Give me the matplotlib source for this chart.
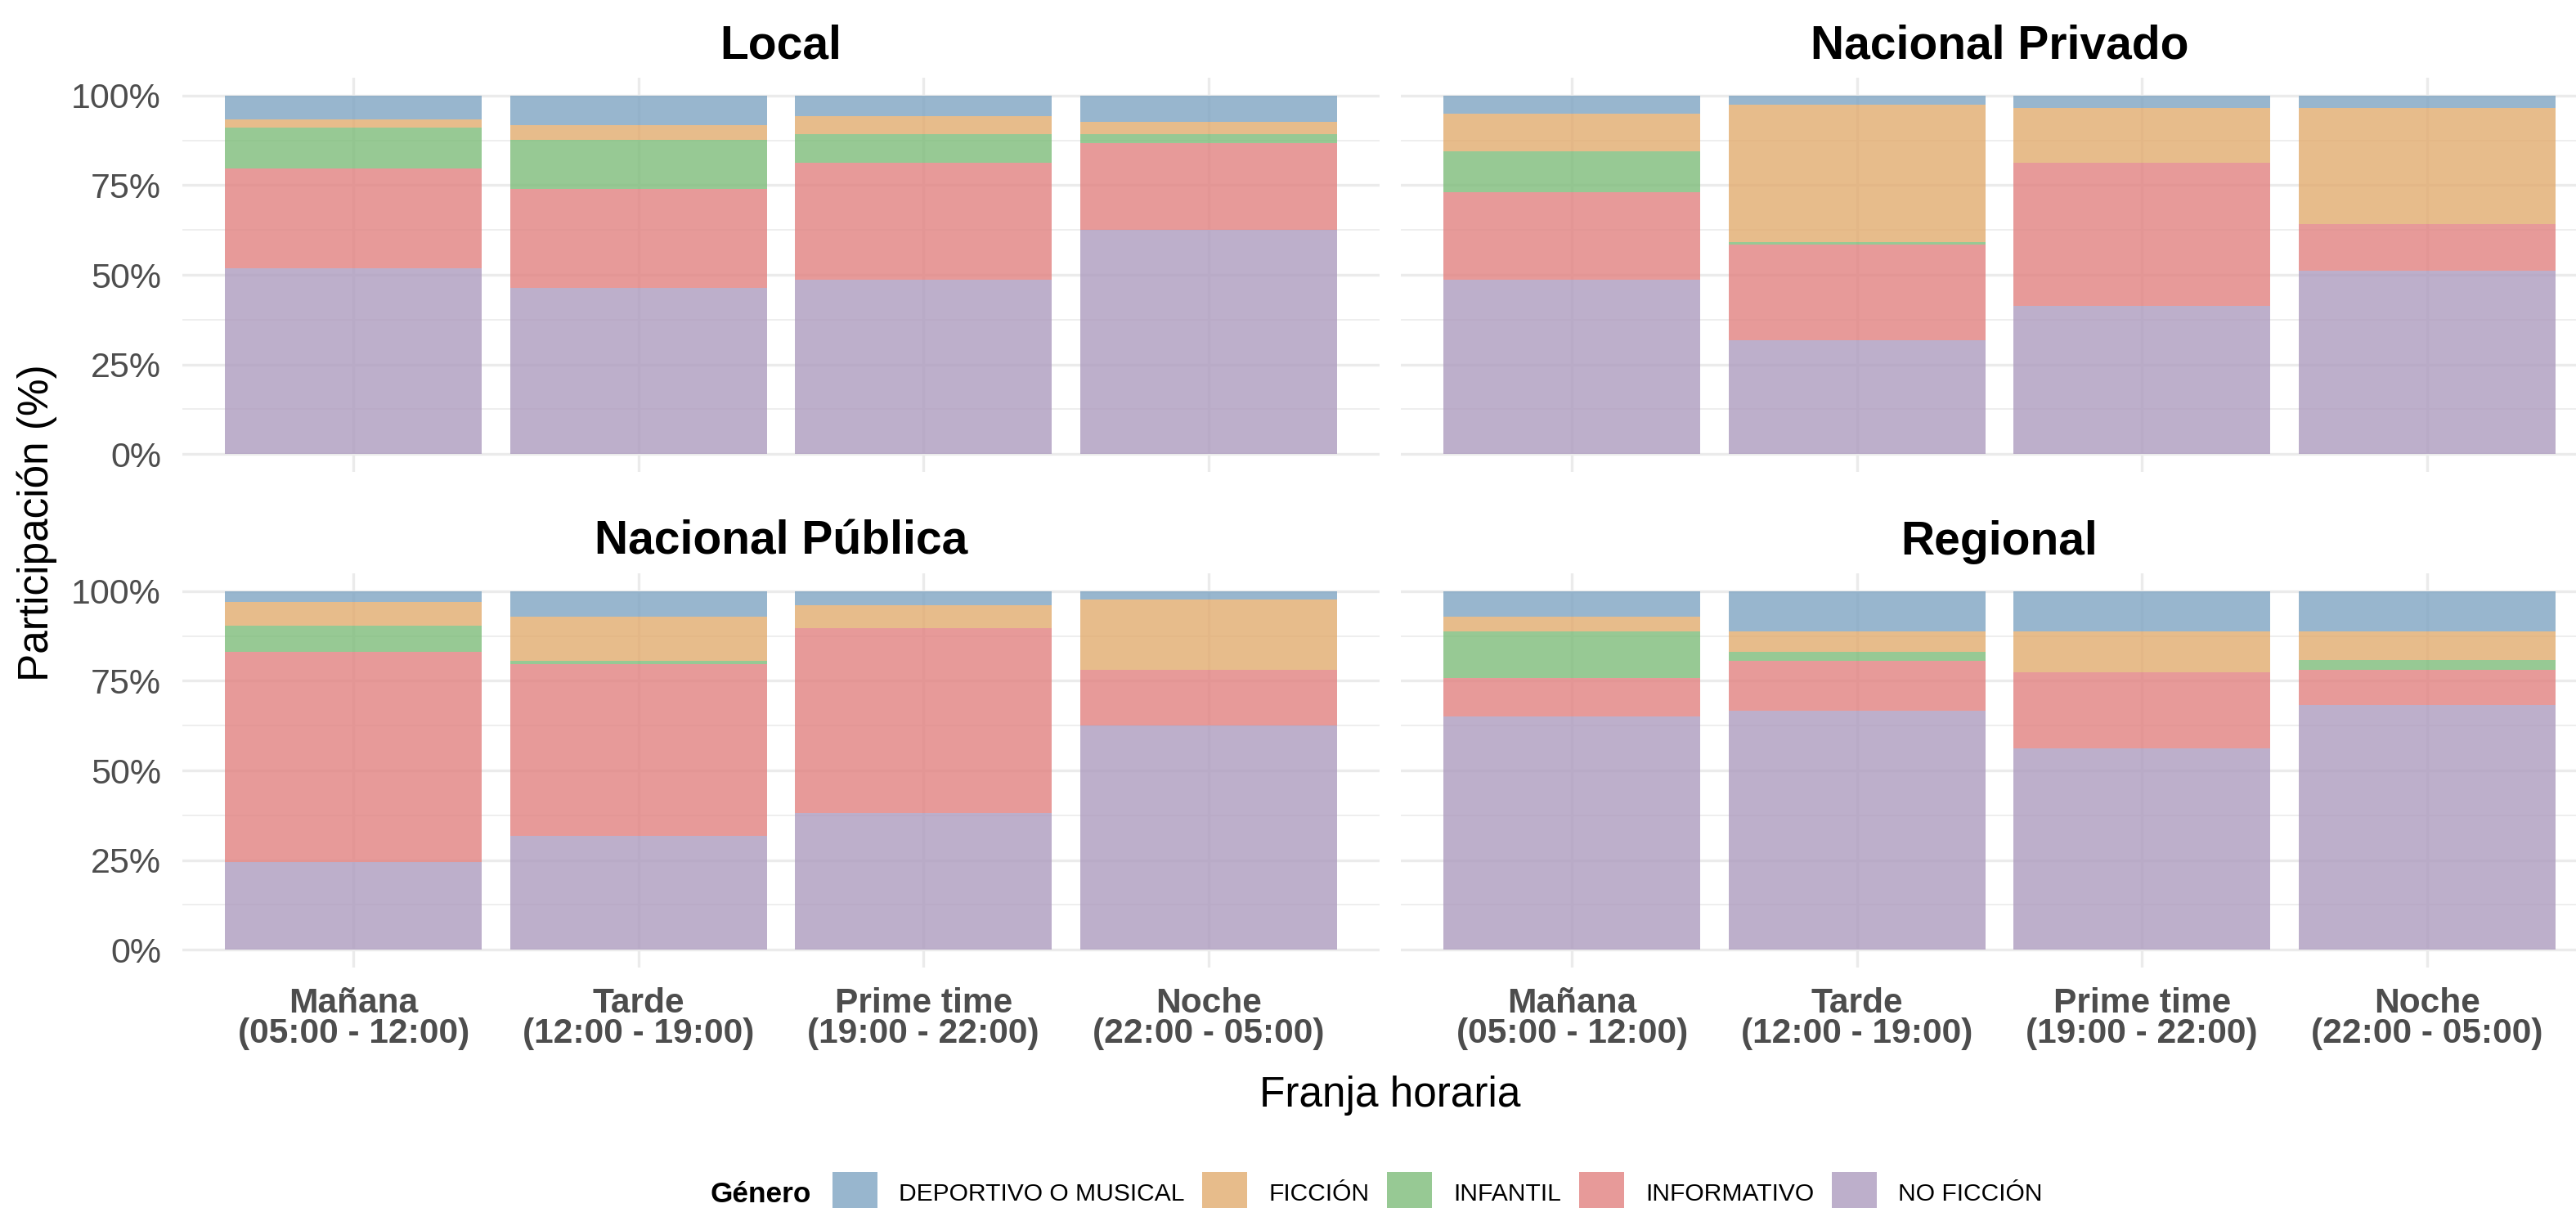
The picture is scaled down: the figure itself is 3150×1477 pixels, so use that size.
import matplotlib
matplotlib.use("Agg")
import matplotlib.pyplot as plt
import numpy as np
from matplotlib.patches import Patch

plt.rcParams['font.family'] = ['Liberation Sans', 'DejaVu Sans']

# ---------------- data ----------------
panels = ["Local", "Nacional Privado", "Nacional Pública", "Regional"]
franjas = ["Mañana\n(05:00 - 12:00)", "Tarde\n(12:00 - 19:00)",
           "Prime time\n(19:00 - 22:00)", "Noche\n(22:00 - 05:00)"]
generos = ["DEPORTIVO O MUSICAL", "FICCIÓN", "INFANTIL", "INFORMATIVO", "NO FICCIÓN"]

# values (%) ordered: panel by panel, franja by franja
no_ficcion = [51.9, 46.2, 48.7, 62.6,
              48.7, 31.7, 41.4, 51.3,
              24.5, 31.8, 38.2, 62.5,
              65.1, 66.7, 56.2, 68.3]
informativo = [27.8, 27.7, 32.6, 24.3,
               24.4, 26.8, 39.9, 13.0,
               58.7, 47.9, 51.4, 15.6,
               10.7, 13.9, 21.3, 9.8]
infantil = [11.5, 13.7, 7.9, 2.4,
            11.4, 0.7, 0.0, 0.0,
            7.3, 0.9, 0.0, 0.0,
            13.0, 2.5, 0.0, 2.6]
ficcion = [2.2, 4.1, 5.0, 3.5,
           10.5, 38.3, 15.2, 32.3,
           6.4, 12.1, 6.6, 19.7,
           3.9, 5.7, 11.4, 8.2]
deportivo = [6.7, 8.2, 5.8, 7.3,
             5.0, 2.5, 3.5, 3.5,
             3.1, 7.2, 3.8, 2.2,
             7.2, 11.1, 11.1, 11.1]

colors = {"DEPORTIVO O MUSICAL": "#7EA4C2",
          "FICCIÓN": "#E2AB6E",
          "INFANTIL": "#7DBC79",
          "INFORMATIVO": "#E18180",
          "NO FICCIÓN": "#AD9BBE"}
ALPHA = 0.8

series = {"DEPORTIVO O MUSICAL": deportivo, "FICCIÓN": ficcion, "INFANTIL": infantil,
          "INFORMATIVO": informativo, "NO FICCIÓN": no_ficcion}
stack_order = ["NO FICCIÓN", "INFORMATIVO", "INFANTIL", "FICCIÓN", "DEPORTIVO O MUSICAL"]

# ---------------- figure ----------------
W, H = 3150, 1477
fig = plt.figure(figsize=(W / 200, H / 200), dpi=200)

boxes = [(223, 95, 1687, 577), (1713, 95, 3177, 577),
         (223, 701, 1687, 1183), (1713, 701, 3177, 1183)]

grid_c = "#EBEBEB"
tick_c = "#4D4D4D"

for p, (l, t, r, b) in enumerate(boxes):
    ax = fig.add_axes([l / W, 1 - b / H, (r - l) / W, (b - t) / H])
    ax.set_axisbelow(True)
    x = np.arange(len(franjas))
    vals = {g: np.array(series[g][p * 4:(p + 1) * 4], dtype=float) for g in generos}
    total = sum(vals[g] for g in generos)
    bottom = np.zeros(len(franjas))
    for g in stack_order:
        h = vals[g] / total * 100
        ax.bar(x, h, bottom=bottom, width=0.9, color=colors[g], alpha=ALPHA,
               linewidth=0, zorder=2)
        bottom += h
    ax.set_xlim(-0.6, len(franjas) - 0.4)
    ax.set_ylim(-5, 105)
    ax.set_yticks([0, 25, 50, 75, 100])
    ax.set_yticks([12.5, 37.5, 62.5, 87.5], minor=True)
    ax.set_xticks(x)
    ax.grid(True, which="major", color=grid_c, linewidth=1.2)
    ax.grid(True, which="minor", axis="y", color=grid_c, linewidth=0.6)
    for s in ax.spines.values():
        s.set_visible(False)
    ax.tick_params(which="both", length=0)
    if p % 2 == 0:
        ax.set_yticklabels([f"{v}%" for v in [0, 25, 50, 75, 100]],
                           fontsize=15.5, color=tick_c)
        ax.tick_params(axis="y", pad=9.4)
    else:
        ax.set_yticklabels([])
    if p >= 2:
        ax.set_xticklabels(franjas, fontsize=15.3, fontweight="bold", color=tick_c,
                           linespacing=0.9)
        ax.tick_params(axis="x", pad=8.6)
    else:
        ax.set_xticklabels([])
    ax.set_title(panels[p], fontsize=20.5, fontweight="bold", pad=8.3, color="black")

fig.text(45 / W, 1 - 639 / H, "Participación (%)", rotation=90, ha="center",
         va="center", fontsize=18.5, color="black")
fig.text(1700 / W, 1 - 1353 / H, "Franja horaria", ha="center", va="baseline",
         fontsize=18.5, color="black")

handles = [Patch(facecolor=colors[g], alpha=ALPHA, linewidth=0) for g in generos]
fs = 10.8
fig.legend(handles, generos, loc="center left",
           bbox_to_anchor=(1018 / W, 1 - 1459 / H), ncol=5, frameon=False,
           fontsize=fs, handlelength=1.83, handleheight=2.3, handletextpad=0.87,
           columnspacing=0.73, borderpad=0, borderaxespad=0)
fig.text(992 / W, 1 - 1470 / H, "Género", ha="right", va="baseline",
         fontsize=12.7, fontweight="bold", color="black")

fig.savefig("out.png", dpi=200)
